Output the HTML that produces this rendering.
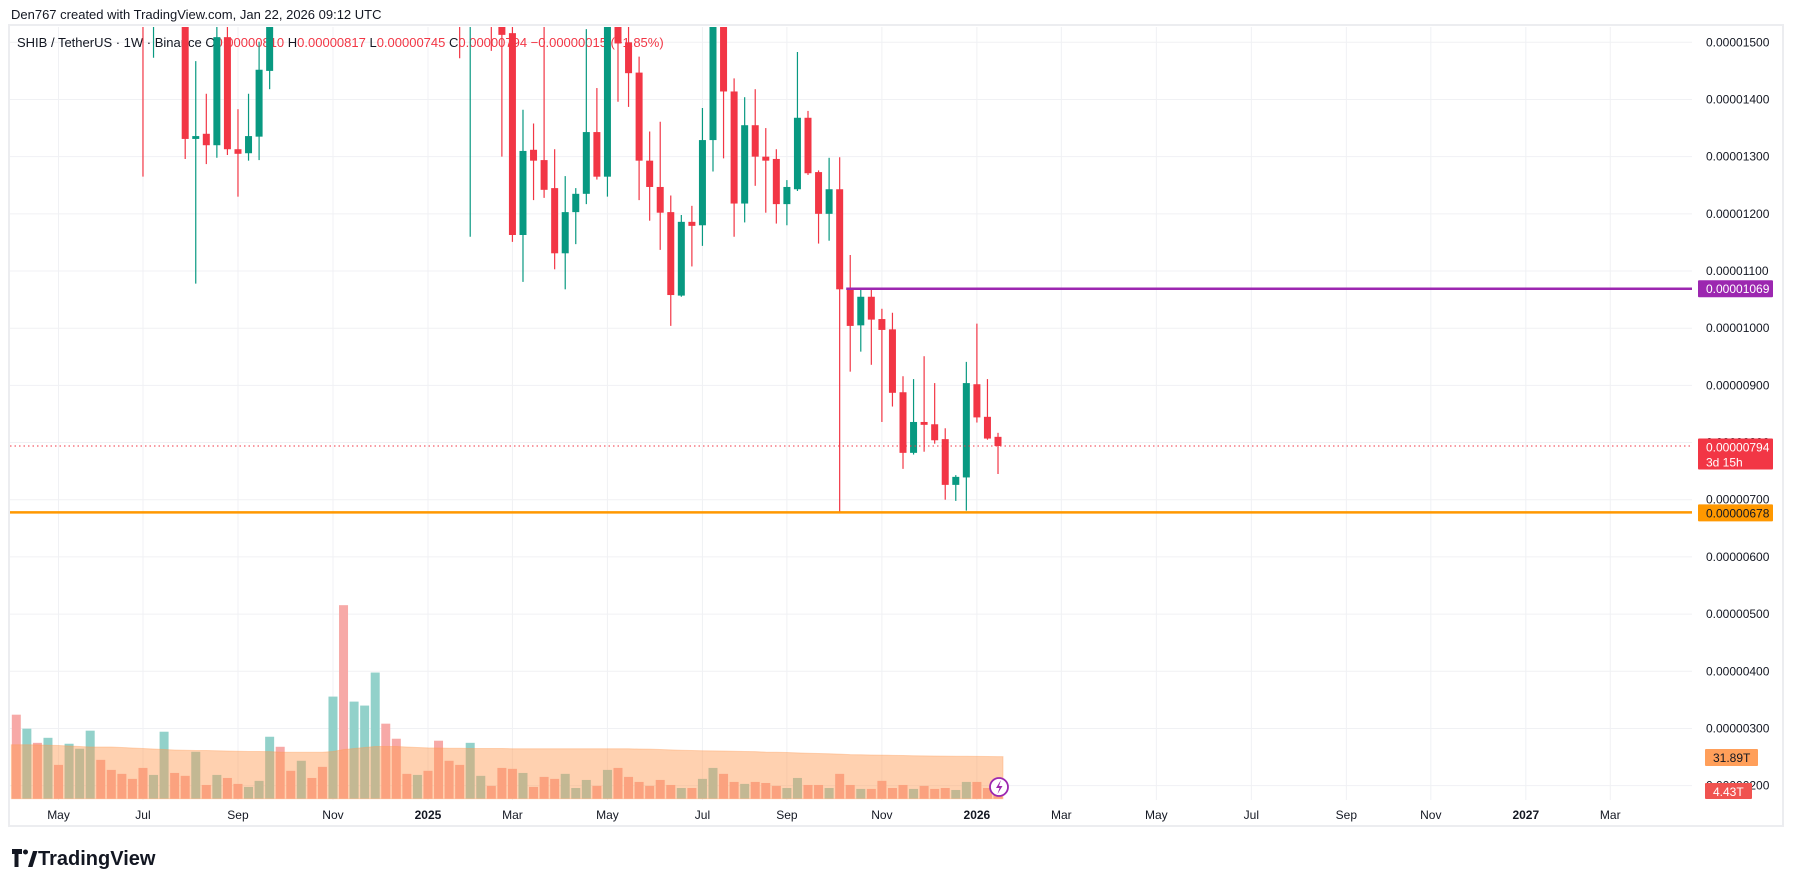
<!DOCTYPE html>
<html><head><meta charset="utf-8"><style>
html,body{margin:0;padding:0;background:#fff;}
svg{display:block;font-family:"Liberation Sans",sans-serif;}
</style></head><body>
<svg id="chart" width="1793" height="887" viewBox="0 0 1793 887" xmlns="http://www.w3.org/2000/svg">
<defs><clipPath id="plotClip"><rect x="10" y="27" width="1682" height="773"/></clipPath></defs>
<rect x="0" y="0" width="1793" height="887" fill="#fff"/>
<text x="11" y="19" font-size="13" fill="#131722">Den767 created with TradingView.com, Jan 22, 2026 09:12 UTC</text>
<g id="grid"></g>
<g id="vol" clip-path="url(#plotClip)"></g>
<g id="legendText">
<text x="17" y="47" font-size="13" fill="#131722">SHIB / TetherUS · 1W · Binance  <tspan>O</tspan><tspan fill="#F23645">0.00000810</tspan><tspan>  H</tspan><tspan fill="#F23645">0.00000817</tspan><tspan>  L</tspan><tspan fill="#F23645">0.00000745</tspan><tspan>  C</tspan><tspan fill="#F23645">0.00000794  −0.00000015 (−1.85%)</tspan></text>
</g>
<g id="candles" clip-path="url(#plotClip)"></g>
<g id="axes"></g>
<g id="overlays"></g>
<g>
<path d="M12 849 h10 v5 h-3.5 v13 h-4 v-13 h-2.5 z" fill="#131722"/>
<circle cx="25.5" cy="852" r="2.5" fill="#131722"/>
<path d="M28 867 l5-16 h4.5 l-5 16 z" fill="#131722"/>
<text x="38" y="865" font-size="20" font-weight="bold" fill="#131722">TradingView</text>
</g>
</svg>
<script>
// ---- data ----
const opens  = [2000,1950,2100,2000,2250,2050,2200,2400,2700,2400,2200,1950,1750,1600,1650,1760,1620,1331,1340,1320,1509,1313,1306,1335,1450,1620,1580,1560,1680,1640,1590,1850,1750,2200,2600,3100,2800,2500,2350,2550,2250,1950,1700,1600,1700,1850,1527,1516,1163,1312,1294,1245,1131,1203,1235,1343,1265,1600,1500,1447,1293,1247,1203,1057,1186,1180,1329,1560,1414,1218,1355,1300,1296,1217,1243,1368,1273,1200,1243,1068,1005,1055,1016,998,888,782,836,832,806,726,739,902,845,810];
const highs  = [2100,2150,2200,2300,2350,2300,2500,2800,2900,2500,2300,2050,1800,1720,1800,1800,1660,1467,1410,1540,1530,1383,1410,1501,1600,1680,1640,1700,1720,1660,1900,2000,2300,2700,3300,3200,2900,2600,2600,2600,2300,2000,1750,1750,1900,1900,1600,1530,1382,1358,1560,1313,1266,1245,1523,1420,1650,1640,1540,1475,1344,1361,1232,1198,1214,1385,1600,1600,1437,1404,1418,1350,1313,1259,1483,1380,1276,1298,1299,1128,1068,1068,1034,1027,916,911,951,904,825,743,941,1008,911,817];
const lows   = [1900,1900,1950,1980,2000,1950,2100,2300,2300,2100,1900,1700,1265,1473,1580,1580,1296,1078,1287,1298,1303,1230,1293,1294,1418,1550,1545,1550,1600,1560,1580,1700,1740,2150,2550,2700,2400,2300,2300,2200,1900,1650,1472,1160,1600,1485,1300,1151,1081,1224,1228,1103,1068,1147,1217,1260,1230,1396,1387,1224,1188,1137,1004,1055,1108,1144,1274,1297,1160,1185,1249,1202,1183,1180,1240,1268,1148,1153,678,924,959,936,836,863,754,779,784,798,700,698,681,835,805,745];
const closes = [1950,2100,2000,2250,2050,2200,2400,2700,2400,2200,1950,1750,1600,1650,1760,1620,1331,1336,1320,1509,1313,1305,1336,1452,1560,1580,1560,1680,1640,1590,1850,1750,2200,2600,3100,2800,2500,2350,2550,2250,1950,1700,1600,1700,1850,1700,1513,1163,1310,1293,1242,1131,1203,1235,1343,1265,1600,1498,1446,1293,1247,1202,1058,1186,1179,1329,1560,1414,1218,1355,1300,1293,1217,1247,1368,1271,1200,1243,1068,1004,1055,1015,997,887,782,836,831,804,726,740,904,844,807,794];
const volumes = [63.6,53.0,42.3,46.1,25.6,41.6,37.8,51.5,29.4,21.8,18.8,15.0,23.3,18.0,50.7,19.5,17.3,35.5,10.4,18.0,15.7,11.2,8.9,13.5,46.9,39.3,21.1,28.7,15.7,24.1,77.3,146.5,73.5,70.5,95.5,56.8,45.4,18.8,18.0,21.1,43.9,28.7,25.6,42.3,17.3,9.7,23.3,22.6,19.5,8.9,16.5,15.0,18.8,8.1,14.2,9.7,21.8,23.3,16.5,12.7,9.7,14.2,10.4,8.1,8.1,15.0,23.3,18.8,12.7,11.2,12.7,11.9,9.7,8.1,15.7,10.4,10.4,8.1,18.8,10.4,7.4,7.4,13.5,8.1,10.4,7.4,9.7,7.4,8.1,6.6,12.7,12.7,8.1,4.43];
const volumeMA = [40.8,40.8,40.7,40.5,40.3,39.9,39.5,39.1,39.1,39.1,38.8,38.4,38.0,37.6,37.2,36.9,36.7,36.5,36.5,36.3,36.1,35.9,35.7,35.7,35.6,35.3,35.2,35.2,35.2,35.2,35.7,37.2,38.0,38.8,39.5,39.5,39.5,39.1,38.8,38.5,38.4,38.2,38.2,38.0,38.0,38.0,38.0,37.8,37.8,37.8,37.8,37.8,37.8,37.8,37.8,37.8,37.8,37.8,37.8,37.6,37.5,37.2,37.0,36.7,36.5,36.3,36.2,36.1,35.9,35.7,35.6,35.3,35.2,35.0,34.7,34.4,34.2,34.0,33.7,33.4,33.3,33.1,33.0,32.8,32.7,32.5,32.4,32.3,32.2,32.1,32.1,32.0,31.9,31.89];
const priceTicks = [1500,1400,1300,1200,1100,1000,900,800,700,600,500,400,300,200];
const monthLabels = ["May","Jul","Sep","Nov","2025","Mar","May","Jul","Sep","Nov","2026","Mar","May","Jul","Sep","Nov","2027","Mar"];
const monthDates = ["2024-05-06","2024-07-01","2024-09-02","2024-11-04","2025-01-06","2025-03-03","2025-05-05","2025-07-07","2025-09-01","2025-11-03","2026-01-05","2026-03-02","2026-05-04","2026-07-06","2026-09-07","2026-11-02","2027-01-04","2027-03-01"];
const firstWeek = "2024-04-08";
const resistanceLevel = 1069;
const supportLevel = 678;
const resistanceStartIndex = 79;
const lastPrice = 794;
const lastMA = "31.89T";
const lastVolumeLabel = "4.43T";

// ---- scales ----
const NS="http://www.w3.org/2000/svg";
const S=10.556, X0=16.3, PL=10, PR=1692;
function xIdx(i){return X0+i*S;}
function xDate(d){const days=(Date.parse(d)-Date.parse(firstWeek))/86400000;return X0+days/7*S;}
function yP(p){return 42.3+(1500-p)*0.5718;}
function yV(v){return 798.7-v*1.321;}
function fmt(p){return "0."+String(Math.round(p)).padStart(8,"0");}
function mk(tag,attrs,parent){const e=document.createElementNS(NS,tag);for(const k in attrs)e.setAttribute(k,attrs[k]);parent.appendChild(e);return e;}

const grid=document.getElementById('grid'), vol=document.getElementById('vol'), cg=document.getElementById('candles'), ov=document.getElementById('overlays'), ax=document.getElementById('axes');

// grid + price labels
priceTicks.forEach(p=>{
  const l=mk('line',{x1:PL,x2:PR,y1:yP(p),y2:yP(p),stroke:'#F0F1F4','stroke-width':1},grid);
  
  
  const t=mk('text',{x:1706,y:yP(p)+4,'font-size':12,fill:'#131722'},ax);
  t.textContent=fmt(p);
  
  
});
monthLabels.forEach((m,k)=>{
  const x=xDate(monthDates[k]);
  const l=mk('line',{x1:x,x2:x,y1:27,y2:800,stroke:'#F0F1F4','stroke-width':1},grid);
  
  
  const bold=/^\d{4}$/.test(m);
  const t=mk('text',{x:x,y:819,'font-size':12,'text-anchor':'middle',fill:'#131722','font-weight':bold?'bold':'normal'},ax);
  t.textContent=m;
  
  
});
const fr=mk('rect',{x:9,y:25,width:1774,height:801,fill:'none',stroke:'#ECEDF0','stroke-width':2},ax);



// volume bars
volumes.forEach((v,i)=>{
  const up=closes[i]>=opens[i];
  const r=mk('rect',{x:xIdx(i)-4.5,y:yV(v),width:9,height:798.7-yV(v),fill:up?'#92D1CA':'#F7A9A7'},vol);
  
  
});
let d='M'+(xIdx(0)-5)+' 798.7 L'+(xIdx(0)-5)+' '+yV(volumeMA[0]);
volumeMA.forEach((v,i)=>{d+=' L'+xIdx(i)+' '+yV(v);});
d+=' L'+(xIdx(volumeMA.length-1)+5)+' '+yV(volumeMA[volumeMA.length-1])+' L'+(xIdx(volumeMA.length-1)+5)+' 798.7 Z';
const ma=mk('path',{d:d,fill:'rgba(255,152,80,0.45)',stroke:'rgba(255,152,80,0.35)','stroke-width':1},vol);



// candles
opens.forEach((o,i)=>{
  const c=closes[i], up=c>=o, col=up?'#089981':'#F23645', x=xIdx(i);
  const g=mk('g',{},cg);
  
  
  mk('line',{x1:x,x2:x,y1:yP(highs[i]),y2:yP(lows[i]),stroke:col,'stroke-width':1.2},g);
  const top=yP(Math.max(o,c)), h=Math.max(1.5,Math.abs(yP(o)-yP(c)));
  mk('rect',{x:x-3.5,y:top,width:7,height:h,fill:col},g);
});

// overlays
const dl=mk('line',{x1:PL,x2:PR,y1:yP(lastPrice),y2:yP(lastPrice),stroke:'#F23645','stroke-width':1,'stroke-dasharray':'1.5 3'},ov);


const rl=mk('line',{x1:xIdx(resistanceStartIndex)-4,x2:PR,y1:yP(resistanceLevel),y2:yP(resistanceLevel),stroke:'#9C27B0','stroke-width':2.5},ov);


const sl=mk('line',{x1:PL,x2:PR,y1:yP(supportLevel),y2:yP(supportLevel),stroke:'#FF9800','stroke-width':2.5},ov);



function label(name,y,h,bg,fg,lines,x,w){
  const g=mk('g',{},ov);
  
  
  mk('rect',{x:x,y:y,width:w,height:h,fill:bg,rx:1},g);
  lines.forEach((s,k)=>{const t=mk('text',{x:x+8,y:y+13+k*15,'font-size':12,fill:fg},g);t.textContent=s;});
}
// cover for hidden 800 tick behind last price label
label('resistance-price-label',yP(resistanceLevel)-8.5,17,'#9C27B0','#fff',[fmt(resistanceLevel)],1698,75);
label('last-price-label',yP(lastPrice)-7.5,31,'#F23645','#fff',[fmt(lastPrice),'3d 15h'],1698,75);
label('support-price-label',yP(supportLevel)-8,17,'#FF9800','#131722',[fmt(supportLevel)],1698,75);
label('volume-ma-label',749,17,'#FF9F5A','#131722',[lastMA],1705,53);
label('volume-label',783,16,'#F05350','#fff',[lastVolumeLabel],1705,47);

const lg=mk('g',{},ov);


mk('circle',{cx:999,cy:787,r:9,fill:'#fff',stroke:'#9C27B0','stroke-width':1.8},lg);
mk('path',{d:'M1001 780 l-5 8 h3.5 l-2 6 l5-8 h-3.5 z',fill:'#9C27B0'},lg);
</script>
</body></html>
